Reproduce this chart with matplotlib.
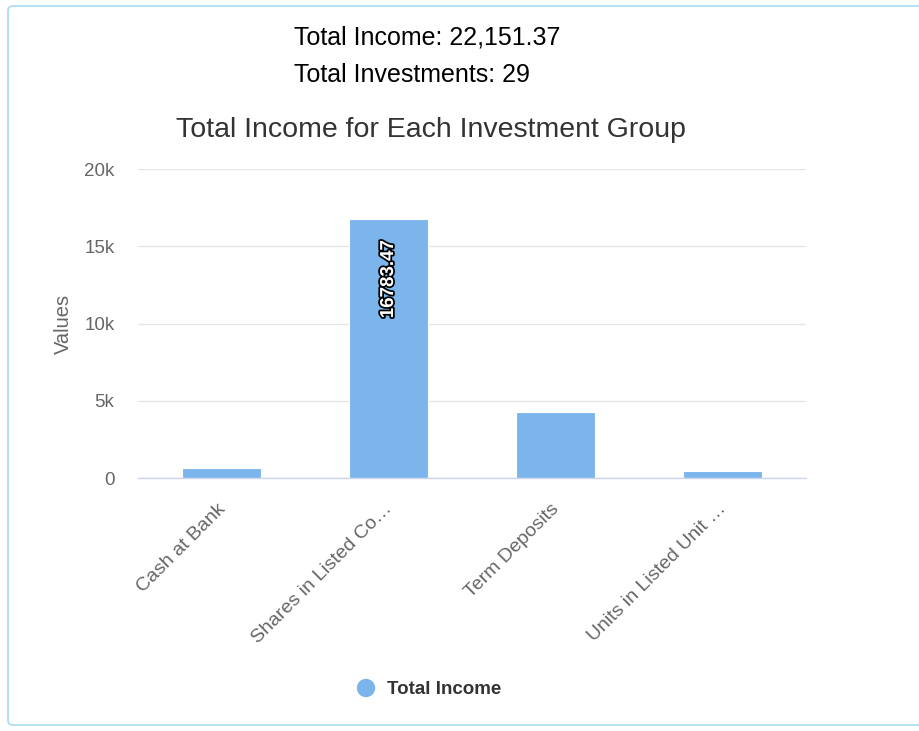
import matplotlib
matplotlib.use("Agg")
import matplotlib.pyplot as plt
import matplotlib.patheffects as pe
import matplotlib.transforms as mtransforms
from matplotlib.patches import FancyBboxPatch, Ellipse

categories = ["Cash at Bank", "Shares in Listed Co\u2026", "Term Deposits", "Units in Listed Unit \u2026"]
values = [650.0, 16783.47, 4270.0, 447.9]
yticks = [0, 5000, 10000, 15000, 20000]
ytick_labels = ["0", "5k", "10k", "15k", "20k"]
summary_lines = ["Total Income: 22,151.37", "Total Investments: 29"]
title = "Total Income for Each Investment Group"
series_name = "Total Income"

plt.rcParams['font.family'] = ['Liberation Sans', 'DejaVu Sans']

W, H = 919, 731
fig = plt.figure(figsize=(W / 100, H / 100), dpi=100)

# border
border = FancyBboxPatch((8 / W, 6 / H), (W + 20) / W, (H - 12) / H,
                        boxstyle="round,pad=0,rounding_size=0.006",
                        transform=fig.transFigure, fill=False,
                        edgecolor="#a6dcef", linewidth=1.2, clip_on=False)
fig.patches.append(border)

fig.text(294 / W, 1 - 44 / H, summary_lines[0], ha="left", va="baseline", fontsize=18, color="#000000")
fig.text(294 / W, 1 - 82 / H, summary_lines[1], ha="left", va="baseline", fontsize=18, color="#000000")
fig.text(431 / W, 1 - 130 / H, title, ha="center", va="center", fontsize=20.5, color="#333333")

ax = fig.add_axes([138 / W, 1 - 478.3 / H, (806 - 138) / W, (478.3 - 169) / H])
x = list(range(len(categories)))
bar_color = "#7cb5ec"
ax.bar(x, values, width=0.47, color=bar_color, edgecolor="white", linewidth=0.8, zorder=3)
ax.set_xlim(-0.5, len(categories) - 0.5)
ax.set_ylim(0, 20000)
ax.set_yticks(yticks)
ax.set_yticklabels(ytick_labels)
ax.grid(axis="y", color="#e6e6e6", linewidth=1, zorder=0)
for s in ["top", "right", "left"]:
    ax.spines[s].set_visible(False)
ax.spines["bottom"].set_color("#ccd6eb")
ax.spines["bottom"].set_linewidth(1)
ax.spines["bottom"].set_zorder(4)
ax.tick_params(axis="y", length=0, pad=17, labelsize=13.5, labelcolor="#666666")
ax.tick_params(axis="x", length=0, pad=13, labelsize=14, labelcolor="#666666")
ax.set_xticks(x)
ax.set_xticklabels(categories, rotation=45, ha="right", rotation_mode="anchor")
shift = mtransforms.ScaledTranslation(-5 / 100, -4 / 100, fig.dpi_scale_trans)
for lbl in ax.get_xticklabels():
    lbl.set_transform(lbl.get_transform() + shift)

fig.text(63 / W, 1 - 324 / H, "Values", rotation=90, ha="center", va="center",
         fontsize=14.5, color="#666666")

# data label for largest bar
imax = values.index(max(values))
ax.annotate(f"{values[imax]:.2f}", xy=(imax, values[imax]), xytext=(0, -15.5),
            textcoords="offset points", rotation=90, ha="center", va="top",
            fontsize=13.5, fontweight="bold", color="white",
            path_effects=[pe.withStroke(linewidth=2.5, foreground="black")], zorder=5)

# legend
fig.patches.append(Ellipse((366 / W, 1 - 688 / H), 17 / W, 17 / H,
                           transform=fig.transFigure, color=bar_color))
fig.text(387 / W, 1 - 689 / H, series_name, ha="left", va="center", fontsize=13.5,
         fontweight="bold", color="#333333")

fig.savefig("out.png", dpi=100, facecolor="white")
